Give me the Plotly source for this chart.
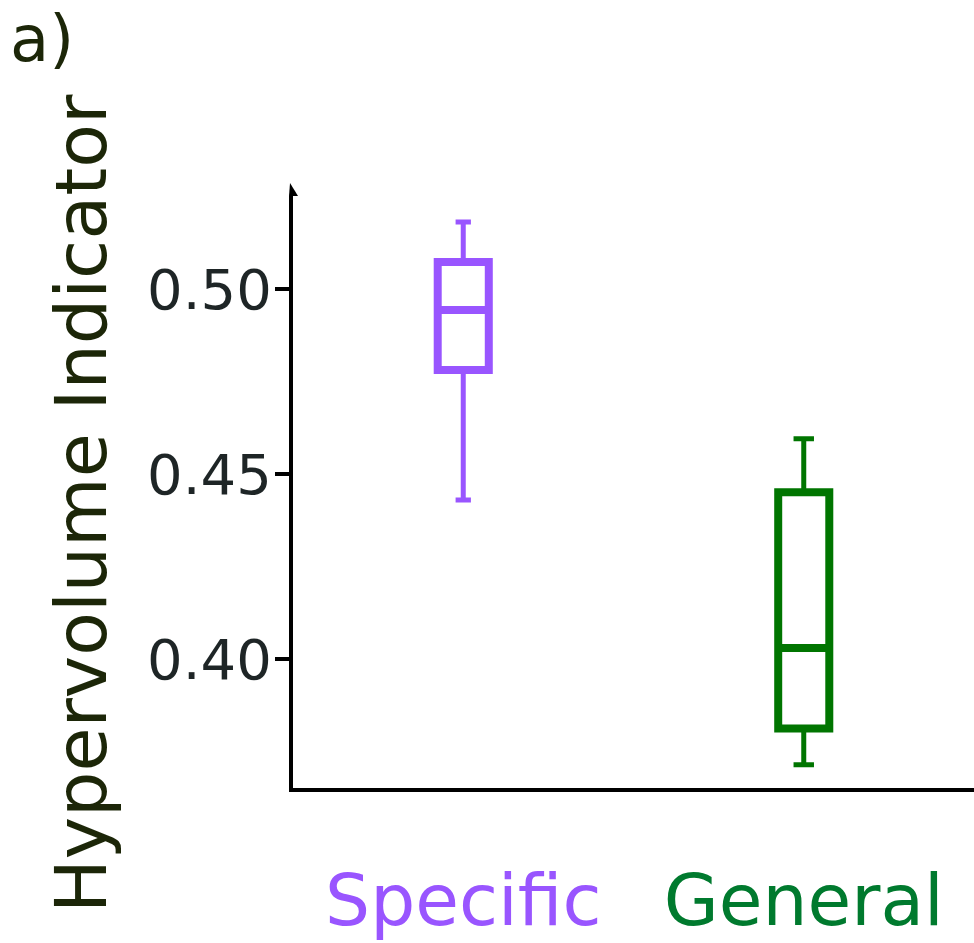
import plotly.graph_objects as go

# ---- data ----
categories = ["Specific", "General"]
q1 = [0.4781, 0.3812]
median = [0.4943, 0.4030]
q3 = [0.5073, 0.4451]
lower_fence = [0.4430, 0.3714]
upper_fence = [0.5181, 0.4595]
colors = ["#9955FF", "#007500"]
label_colors = ["#9955FF", "#007A2E"]
cap_ratio = [0.3, 0.4]
y_ticks = [0.40, 0.45, 0.50]

W, H = 974, 943
L, R, T, B = 293, 0, 196, 155
pw, ph = W - L - R, H - T - B

def px_x(x):
    return (x - L) / pw

def px_y(y):
    return (H - B - y) / ph

fig = go.Figure()
for i, c in enumerate(categories):
    # full box with whiskers
    fig.add_trace(go.Box(
        x=[c], q1=[q1[i]], median=[median[i]], q3=[q3[i]],
        lowerfence=[lower_fence[i]], upperfence=[upper_fence[i]],
        width=0.15, whiskerwidth=cap_ratio[i], boxpoints=False,
        line=dict(color=colors[i], width=5), fillcolor="rgba(0,0,0,0)",
        showlegend=False, hoverinfo="skip"))
    # thicker box outline
    fig.add_trace(go.Box(
        x=[c], q1=[q1[i]], median=[median[i]], q3=[q3[i]],
        lowerfence=[q1[i]], upperfence=[q3[i]],
        width=0.15, whiskerwidth=0, boxpoints=False,
        line=dict(color=colors[i], width=8), fillcolor="rgba(0,0,0,0)",
        showlegend=False, hoverinfo="skip"))

fig.update_layout(
    width=W, height=H,
    margin=dict(l=L, r=R, t=T, b=B, pad=0),
    paper_bgcolor="white", plot_bgcolor="white",
    font=dict(family="DejaVu Sans"),
    xaxis=dict(
        type="category", categoryorder="array", categoryarray=categories,
        range=[-0.5, 1.5],
        tickvals=categories,
        ticktext=[f"<span style='color:{label_colors[i]}'>{c}</span>" for i, c in enumerate(categories)],
        tickfont=dict(size=71, family="DejaVu Sans"),
        ticks="", ticklabelstandoff=48,
        showline=True, linecolor="black", linewidth=4,
        showgrid=False, zeroline=False,
    ),
    yaxis=dict(
        range=[0.36514, 0.52514],
        tickvals=y_ticks, ticktext=[f"{v:.2f}" for v in y_ticks],
        tickfont=dict(size=56, color="#1E2526", family="DejaVu Sans"),
        ticks="outside", ticklen=14, tickwidth=4, tickcolor="black",
        ticklabelstandoff=-8,
        showline=True, linecolor="black", linewidth=4,
        showgrid=False, zeroline=False,
    ),
    annotations=[
        dict(text="Hypervolume Indicator", textangle=-90,
             x=px_x(81), y=px_y(504), xref="paper", yref="paper",
             xanchor="center", yanchor="middle", showarrow=False,
             font=dict(size=71.5, color="#1C2608", family="DejaVu Sans")),
        dict(text="a)", x=px_x(8), y=px_y(0), xref="paper", yref="paper",
             xanchor="left", yanchor="top", showarrow=False,
             font=dict(size=64, color="#1C2608", family="DejaVu Sans")),
    ],
    shapes=[
        dict(type="path", xref="paper", yref="paper",
             xsizemode="pixel", ysizemode="pixel", xanchor=0, yanchor=1,
             path="M-4,0 L-3,13 L5,0 Z", fillcolor="black",
             line=dict(color="black", width=0)),
    ],
)

fig.write_html("out.html")
